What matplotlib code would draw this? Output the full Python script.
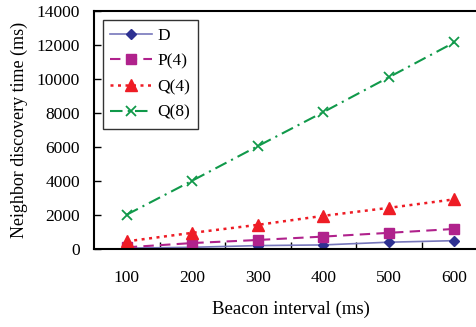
import matplotlib.pyplot as plt
import numpy as np

beacon = ['100', '200', '300', '400', '500', '600']
d_vals = [50, 100, 200, 240, 400, 490]
p4_vals = [100, 350, 530, 730, 950, 1180]
q4_vals = [450, 950, 1420, 1950, 2420, 2920]
q8_vals = [2020, 4020, 6050, 8050, 10100, 12150]

plt.rcParams['font.family'] = 'Liberation Serif'

fig = plt.figure(figsize=(4.77, 3.27), dpi=100)
ax = fig.add_axes([94 / 477, 78 / 327, 393 / 477, 238 / 327])

x = np.arange(len(beacon))
ax.plot(x, d_vals, color='#7777bb', lw=1.2, marker='D', ms=5,
        mfc='#2e3192', mec='#2e3192', label='D')
ax.plot(x, p4_vals, color='#b0228c', lw=1.5, ls=(0, (5, 3)), marker='s', ms=7,
        mfc='#b0228c', mec='#b0228c', label='P(4)')
ax.plot(x, q4_vals, color='#ee1c25', lw=1.8, ls=(0, (1.2, 1.8)), marker='^', ms=8,
        mfc='#ee1c25', mec='#ee1c25', label='Q(4)')
ax.plot(x, q8_vals, color='#10994a', lw=1.5, ls=(0, (6, 2.5, 1, 2.5)), marker='x', ms=7,
        mew=1.3, label='Q(8)')

ax.set_xlim(-0.5, 5.5)
ax.set_ylim(0, 14000)
ax.set_yticks(range(0, 14001, 2000))
ax.set_xticks(x)
ax.set_xticklabels(beacon)
ax.set_xticks(np.arange(0.5, 5.5, 1), minor=True)
ax.tick_params(axis='x', which='major', length=0, pad=15, labelsize=12.5)
ax.tick_params(axis='x', which='minor', direction='in', length=5, width=1)
ax.tick_params(axis='y', direction='in', length=5, width=1, labelsize=12.5, pad=10)

for s in ['left', 'bottom', 'top']:
    ax.spines[s].set_linewidth(1.5)
ax.spines['right'].set_visible(False)

ax.set_xlabel('Beacon interval (ms)', fontsize=13.5, labelpad=11)
ax.set_ylabel('Neighbor discovery time (ms)', fontsize=13, labelpad=6)

leg = ax.legend(loc='upper left', bbox_to_anchor=(0.0, 1.0), borderaxespad=0.5,
                frameon=True, fancybox=False, edgecolor='black', fontsize=12.5,
                handlelength=2.4, labelspacing=0.55, borderpad=0.45, handletextpad=0.3)
leg.get_frame().set_linewidth(1.0)

fig.savefig('out.png', dpi=100)
